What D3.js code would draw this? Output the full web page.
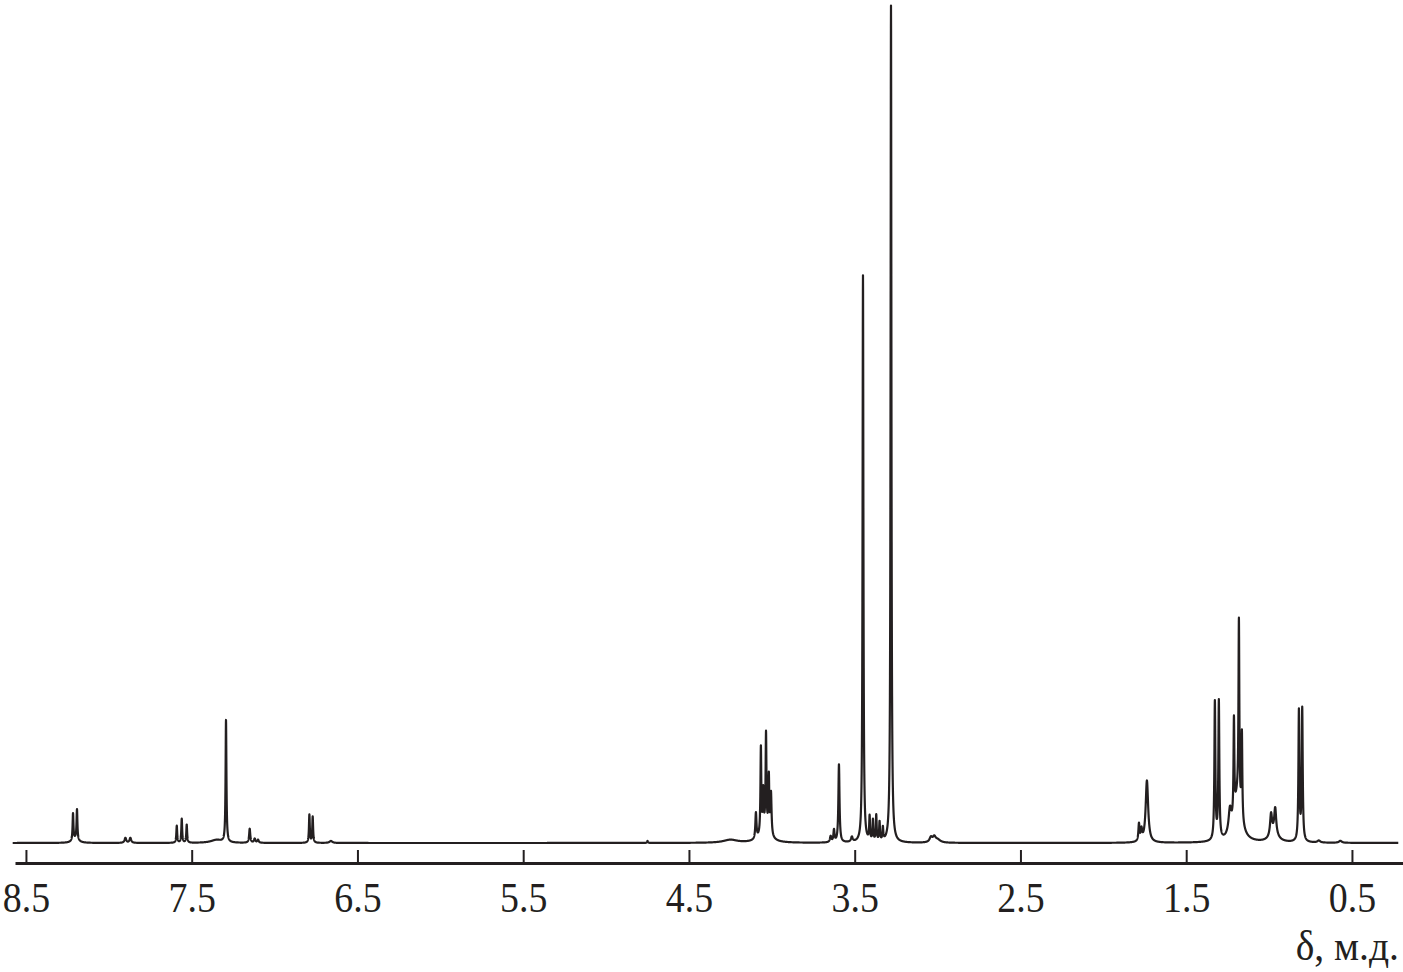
<!DOCTYPE html>
<html>
<head>
<meta charset="utf-8">
<script src="https://cdn.jsdelivr.net/npm/d3@7.9.0/dist/d3.min.js"></script>
<style>
  html, body { margin: 0; padding: 0; background: #fff; }
  svg { display: block; }
  .tick text, .axis-title { font-family: "Liberation Serif", "Times New Roman", serif; fill: #231f20; }
</style>
</head>
<body>
<svg id="chart" width="1403" height="972"></svg>
<script>
// peak list: shift (ppm), height (arb. units), half-width (ppm)
const peakShift = [
  8.216, 8.192, 8.20, 7.90, 7.87, 7.59, 7.56, 7.53, 7.35, 7.293, 7.15, 7.12, 7.10,
  6.79, 6.77, 6.66,
  4.75, 4.25, 4.096, 4.066, 4.052, 4.035, 4.018, 4.005, 4.04,
  3.645, 3.625, 3.595, 3.517, 3.45, 3.41, 3.39, 3.37, 3.35, 3.33, 3.281,
  3.04, 3.02, 3.00,
  1.785, 1.77, 1.737, 1.327, 1.303, 1.236, 1.212, 1.182, 1.164, 1.19,
  0.988, 0.963, 0.97, 0.820, 0.800, 0.70, 0.57
];
const peakHeight = [
  27, 30, 4, 5, 5, 17, 24, 18, 3, 122, 14, 4, 3,
  28, 26, 2,
  2, 3, 26, 86, 38, 94, 55, 42, 14,
  6, 12, 78, 5, 567, 24, 21, 26, 19, 13, 837,
  5, 5, 3,
  17, 11, 62, 138, 138, 24, 96, 180, 86, 45,
  22, 26, 8, 130, 132, 2, 2
];
const peakWidth = [
  0.003, 0.003, 0.02, 0.006, 0.006, 0.003, 0.003, 0.003, 0.04, 0.003, 0.004, 0.005, 0.005,
  0.003, 0.003, 0.01,
  0.003, 0.05, 0.004, 0.003, 0.003, 0.003, 0.003, 0.004, 0.03,
  0.005, 0.004, 0.004, 0.006, 0.003, 0.003, 0.003, 0.003, 0.003, 0.003, 0.003,
  0.01, 0.01, 0.02,
  0.004, 0.005, 0.009, 0.0035, 0.0035, 0.01, 0.003, 0.003, 0.003, 0.025,
  0.007, 0.007, 0.03, 0.0035, 0.0035, 0.01, 0.01
];
const tickLabels = [8.5, 7.5, 6.5, 5.5, 4.5, 3.5, 2.5, 1.5, 0.5];
const axisTitle = "δ, м.д.";

const peaks = peakShift.map((s, i) => ({ shift: s, h: peakHeight[i], w: peakWidth[i] }));

const svg = d3.select('#chart');

let x = d3.scaleLinear().domain([8.566, 0.192]).range([15, 1403]);
let y = d3.scaleLinear().domain([0, 838]).range([843, 5]);

// spectrum trace: sum of lorentzian lines, sampled on a fine grid plus the peak centres
let grid = d3.range(8.58, 0.22, -0.0005).concat(peakShift).sort((a, b) => b - a);
let trace = grid.map(ppm => {
  let v = 0;
  for (const p of peaks) {
    const d = ppm - p.shift;
    v += p.h * (p.w * p.w) / (p.w * p.w + d * d);
  }
  return [ppm, v];
});

let line = d3.line()
  .x(d => x(d[0]))
  .y(d => y(d[1]));

svg.append('path')
  .datum(trace)
  .attr('d', line)
  .attr('fill', 'none')
  .attr('stroke', '#231f20')
  .attr('stroke-width', 2.2)
  .attr('stroke-linejoin', 'round');

// axis
let axis = d3.axisBottom(x)
  .tickValues(tickLabels)
  .tickFormat(d3.format('.1f'))
  .tickSize(-13)
  .tickSizeOuter(0);

let g = svg.append('g')
  .attr('transform', 'translate(0,863)')
  .call(axis);

g.select('.domain').attr('stroke', '#231f20').attr('stroke-width', 3);
g.selectAll('.tick line').attr('stroke', '#231f20').attr('stroke-width', 2);
g.selectAll('.tick text')
  .attr('y', 0)
  .attr('dy', 0)
  .attr('transform', 'translate(0,49) scale(0.88,1)')
  .attr('font-size', 43)
  .attr('fill', '#231f20');

svg.append('text')
  .attr('class', 'axis-title')
  .attr('text-anchor', 'end')
  .attr('transform', 'translate(1399,960) scale(0.92,1)')
  .attr('font-size', 43)
  .text(axisTitle);
</script>
</body>
</html>
